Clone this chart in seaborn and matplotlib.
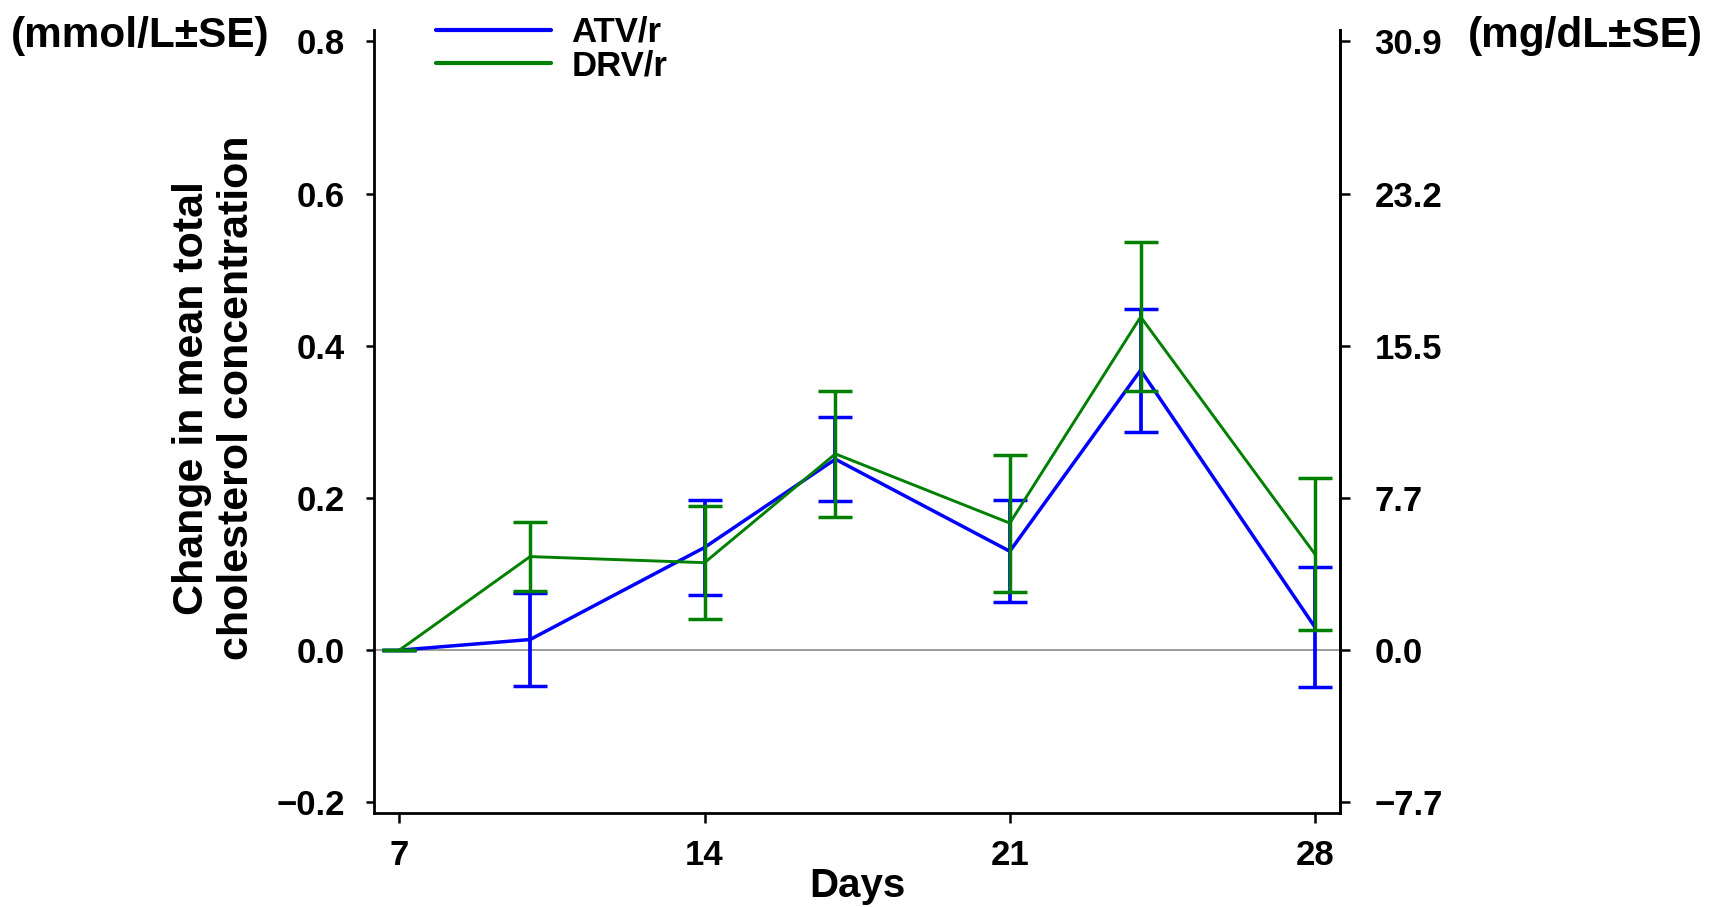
import matplotlib
matplotlib.use('Agg')
import matplotlib.pyplot as plt
import seaborn as sns
import pandas as pd

# Data
days = [7, 10, 14, 17, 21, 24, 28]
atv_mean = [0.0, 0.014, 0.135, 0.251, 0.130, 0.368, 0.030]
atv_se = [0.0, 0.061, 0.063, 0.055, 0.067, 0.081, 0.079]
drv_mean = [0.0, 0.123, 0.115, 0.258, 0.167, 0.438, 0.126]
drv_se = [0.0, 0.045, 0.074, 0.083, 0.090, 0.098, 0.100]

x_ticks = [7, 14, 21, 28]
mmol_ticks = [-0.2, 0.0, 0.2, 0.4, 0.6, 0.8]
mmol_labels = ['\u22120.2', '0.0', '0.2', '0.4', '0.6', '0.8']
mgdl_labels = ['\u22127.7', '0.0', '7.7', '15.5', '23.2', '30.9']

sns.set_theme(style="white")
plt.rcParams['font.family'] = ['Liberation Sans', 'DejaVu Sans']
plt.rcParams['font.weight'] = 'bold'
plt.rcParams['text.color'] = 'black'
plt.rcParams['axes.labelcolor'] = 'black'
plt.rcParams['xtick.color'] = 'black'
plt.rcParams['ytick.color'] = 'black'

df = pd.DataFrame({
    "Days": days * 2,
    "Change": atv_mean + drv_mean,
    "Regimen": ["ATV/r"] * len(days) + ["DRV/r"] * len(days),
})
colors = {"ATV/r": "#0000ff", "DRV/r": "#008000"}

fig = plt.figure(figsize=(17.17, 9.07), dpi=100)
ax = fig.add_axes([0.2178, 0.1036, 0.5626, 0.8633])

# zero reference line
ax.axhline(0, color='#808080', lw=1.1, zorder=1)

# lines
sns.lineplot(data=df[df.Regimen == "ATV/r"], x="Days", y="Change", color=colors["ATV/r"],
             lw=2.5, ax=ax, label="ATV/r", zorder=3)
sns.lineplot(data=df[df.Regimen == "DRV/r"], x="Days", y="Change", color=colors["DRV/r"],
             lw=2.1, ax=ax, label="DRV/r", zorder=4)

# error bars
ax.errorbar(days, atv_mean, yerr=atv_se, fmt='none', ecolor=colors["ATV/r"],
            elinewidth=2.7, capsize=12.5, capthick=2.5, zorder=3)
ax.errorbar(days, drv_mean, yerr=drv_se, fmt='none', ecolor=colors["DRV/r"],
            elinewidth=2.5, capsize=12.5, capthick=2.5, zorder=4)

ax.set_xlim(6.42, 28.57)
ax.set_ylim(-0.214, 0.815)
ax.set_xticks(x_ticks)
ax.set_xticklabels([str(d) for d in x_ticks])
ax.set_yticks(mmol_ticks)
ax.set_yticklabels(mmol_labels)

for side in ['left', 'right', 'bottom']:
    ax.spines[side].set_visible(True)
    ax.spines[side].set_color('black')
    ax.spines[side].set_linewidth(2.0)
ax.spines['top'].set_visible(False)

ax.tick_params(axis='y', direction='out', length=6, width=1.8, color='black',
               labelsize=25, pad=15, left=True)
ax.tick_params(axis='x', direction='out', length=7, width=1.8, color='black',
               labelsize=25, pad=12, bottom=True)
for lbl in ax.get_xticklabels() + ax.get_yticklabels():
    lbl.set_fontweight('bold')

ax.set_xlabel("Days", fontsize=29, fontweight='bold', labelpad=-4)
ax.set_ylabel("Change in mean total\ncholesterol concentration", fontsize=31,
              fontweight='bold', linespacing=1.15)
ax.yaxis.set_label_coords(-0.121, 0.53)

# right axis in mg/dL
ax2 = ax.twinx()
ax2.set_ylim(ax.get_ylim())
ax2.set_yticks(mmol_ticks)
ax2.set_yticklabels(mgdl_labels)
ax2.grid(False)
for side in ['left', 'top', 'bottom']:
    ax2.spines[side].set_visible(False)
ax2.spines['right'].set_color('black')
ax2.spines['right'].set_linewidth(2.0)
ax2.tick_params(axis='y', direction='out', length=7, width=1.8, color='black',
                labelsize=25, pad=18, right=True)
for lbl in ax2.get_yticklabels():
    lbl.set_fontweight('bold')

fig.text(11 / 1717, 1 - 36 / 907, "(mmol/L\u00b1SE)", fontsize=30.5, fontweight='bold',
         ha='left', va='center')
fig.text(1703 / 1717, 1 - 36 / 907, "(mg/dL\u00b1SE)", fontsize=30.5, fontweight='bold',
         ha='right', va='center')

leg = ax.legend(loc='upper left', bbox_to_anchor=(436 / 1717, 1 - 16 / 907),
                bbox_transform=fig.transFigure, frameon=False, fontsize=25,
                handlelength=3.3, handletextpad=0.6, labelspacing=0.0,
                borderpad=0, borderaxespad=0)
for t in leg.get_texts():
    t.set_fontweight('bold')
for h in leg.get_lines():
    h.set_linewidth(3)

fig.savefig("out.png", dpi=100)
